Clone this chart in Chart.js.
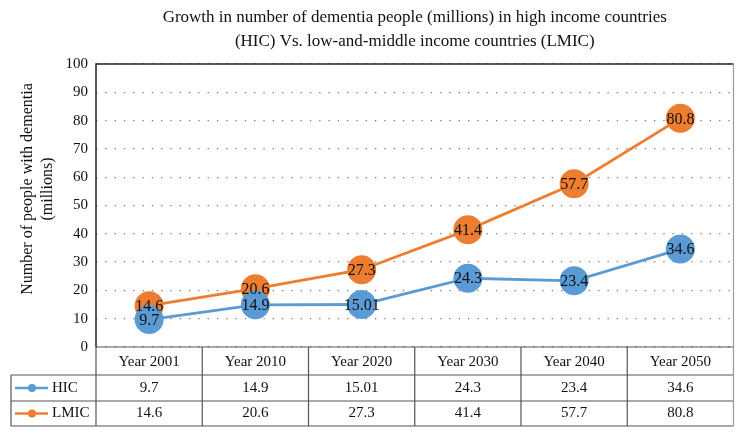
<!DOCTYPE html>
<html>
<head>
<meta charset="utf-8">
<script src="https://cdn.jsdelivr.net/npm/chart.js@4"></script>
<style>
  html, body { margin: 0; padding: 0; background: #fff; }
  #wrap { width: 748px; height: 437px; }
</style>
</head>
<body>
<div id="wrap"><canvas id="bieuDo" width="748" height="437"></canvas></div>
<script>
// du lieu doc tu hinh
const years = ["Year 2001", "Year 2010", "Year 2020", "Year 2030", "Year 2040", "Year 2050"];
const hic = [9.7, 14.9, 15.01, 24.3, 23.4, 34.6];
const lmic = [14.6, 20.6, 27.3, 41.4, 57.7, 80.8];
const hicText = ["9.7", "14.9", "15.01", "24.3", "23.4", "34.6"];
const lmicText = ["14.6", "20.6", "27.3", "41.4", "57.7", "80.8"];
const titleLines = [
  "Growth in number of dementia people (millions) in high income countries",
  "(HIC) Vs. low-and-middle income countries (LMIC)",
];
const yTitle = ["Number of people with dementia", "(millions)"];

const serif = "'Liberation Serif', 'DejaVu Serif', serif";
const blue = "#5b9bd5";
const orange = "#ed7d31";

// tieu de, khung, nhan du lieu va bang
const extras = {
  id: "extras",
  afterDraw(chart) {
    const ctx = chart.ctx;
    const a = chart.chartArea;
    const x = chart.scales.x;
    ctx.save();
    ctx.fillStyle = "#111";
    ctx.font = "17px " + serif;
    ctx.textAlign = "center";
    ctx.textBaseline = "middle";
    const cx = (a.left + a.right) / 2;
    ctx.fillText(titleLines[0], cx, 18);
    ctx.fillText(titleLines[1], cx, 42);

    // tieu de truc y
    ctx.font = "16px " + serif;
    ctx.save();
    ctx.translate(28, 189);
    ctx.rotate(-Math.PI / 2);
    ctx.fillText(yTitle[0], 0, 0);
    ctx.fillText(yTitle[1], 0, 20);
    ctx.restore();

    // khung vung ve
    ctx.lineWidth = 1.5;
    ctx.strokeStyle = "#222";
    ctx.beginPath();
    ctx.moveTo(a.left, a.bottom);
    ctx.lineTo(a.left, a.top);
    ctx.lineTo(a.right, a.top);
    ctx.stroke();

    // bang
    const colW = (a.right - a.left) / years.length;
    const tableLeft = 11;
    const r1 = 375, r2 = 401, r3 = 426;
    ctx.lineWidth = 1.2;
    ctx.strokeStyle = "#555";
    ctx.beginPath();
    ctx.moveTo(a.left, a.bottom); ctx.lineTo(a.right, a.bottom);
    ctx.moveTo(tableLeft, r1); ctx.lineTo(a.right, r1);
    ctx.moveTo(tableLeft, r2); ctx.lineTo(a.right, r2);
    ctx.moveTo(tableLeft, r3); ctx.lineTo(a.right, r3);
    ctx.moveTo(tableLeft, r1); ctx.lineTo(tableLeft, r3);
    for (let i = 0; i < years.length; i++) {
      const xl = a.left + i * colW;
      ctx.moveTo(xl, a.bottom); ctx.lineTo(xl, r3);
    }
    ctx.stroke();
    ctx.strokeStyle = "#999";
    ctx.beginPath();
    ctx.moveTo(a.right, a.top); ctx.lineTo(a.right, r3);
    ctx.stroke();

    ctx.font = "15px " + serif;
    const rows = [
      { name: "HIC", color: blue, vals: hicText, y: (r1 + r2) / 2 },
      { name: "LMIC", color: orange, vals: lmicText, y: (r2 + r3) / 2 },
    ];
    rows.forEach(function (row) {
      ctx.strokeStyle = row.color;
      ctx.fillStyle = row.color;
      ctx.lineWidth = 2.5;
      ctx.beginPath();
      ctx.moveTo(15, row.y); ctx.lineTo(48, row.y);
      ctx.stroke();
      ctx.beginPath();
      ctx.arc(32, row.y, 4, 0, Math.PI * 2);
      ctx.fill();
      ctx.fillStyle = "#111";
      ctx.textAlign = "left";
      ctx.fillText(row.name, 52, row.y);
      ctx.textAlign = "center";
      row.vals.forEach(function (v, i) {
        ctx.fillText(v, x.getPixelForValue(i), row.y);
      });
    });

    // nhan tren diem
    ctx.font = "16px " + serif;
    chart.data.datasets.forEach(function (ds, di) {
      const meta = chart.getDatasetMeta(di);
      const labels = di === 0 ? hicText : lmicText;
      meta.data.forEach(function (pt, i) {
        ctx.fillText(labels[i], pt.x, pt.y + 1);
      });
    });
    ctx.restore();
  },
};

new Chart(document.getElementById("bieuDo"), {
  type: "line",
  data: {
    labels: years,
    datasets: [
      {
        label: "HIC",
        data: hic,
        borderColor: blue,
        backgroundColor: blue,
        borderWidth: 2.8,
        pointRadius: 14.5,
        pointBorderWidth: 0,
        fill: false,
        tension: 0,
      },
      {
        label: "LMIC",
        data: lmic,
        borderColor: orange,
        backgroundColor: orange,
        borderWidth: 2.8,
        pointRadius: 14.5,
        pointBorderWidth: 0,
        fill: false,
        tension: 0,
      },
    ],
  },
  options: {
    responsive: false,
    animation: false,
    layout: { padding: { top: 64, right: 12, left: 0, bottom: 0 } },
    plugins: {
      legend: { display: false },
      title: { display: false },
      tooltip: { enabled: false },
    },
    scales: {
      x: {
        offset: true,
        grid: { display: false, drawTicks: false },
        border: { display: false },
        ticks: { color: "#111", font: { family: serif, size: 15 }, padding: 6 },
        afterFit: function (scale) { scale.height = 90; },
      },
      y: {
        min: 0,
        max: 100,
        ticks: { stepSize: 10, color: "#111", font: { family: serif, size: 15 }, padding: 8 },
        grid: { color: "#777", lineWidth: 1.3, drawTicks: false },
        border: { display: false, dash: [1.3, 8] },
        afterFit: function (scale) { scale.width = 96; },
      },
    },
  },
  plugins: [extras],
});
</script>
</body>
</html>
